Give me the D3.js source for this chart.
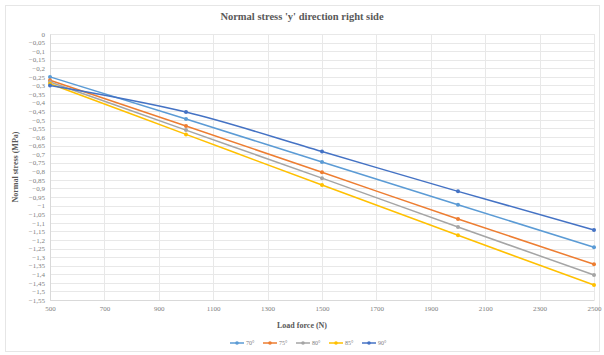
<!DOCTYPE html>
<html>
<head>
<meta charset="utf-8">
<script src="https://cdn.jsdelivr.net/npm/d3@7"></script>
<style>
  body { margin: 0; background: #fff; }
  svg { display: block; }
</style>
</head>
<body>
<svg id="grafico"></svg>
<script>
// datos
var cargas = [500, 1000, 1500, 2000, 2500];
var angulos = ["70°", "75°", "80°", "85°", "90°"];
var s70 = [-0.25, -0.495, -0.746, -0.995, -1.243];
var s75 = [-0.27, -0.536, -0.806, -1.078, -1.342];
var s80 = [-0.28, -0.56, -0.84, -1.125, -1.404];
var s85 = [-0.29, -0.585, -0.88, -1.173, -1.463];
var s90 = [-0.30, -0.455, -0.685, -0.917, -1.142];
var ticksX = [500, 700, 900, 1100, 1300, 1500, 1700, 1900, 2100, 2300, 2500];
var ticksY = d3.range(0, 32).map(function (i) { return -i * 0.05; });
var colores = ["#5b9bd5", "#ed7d31", "#a5a5a5", "#ffc000", "#4472c4"];

var series = [s70, s75, s80, s85, s90].map(function (v, i) {
    return { nombre: angulos[i], color: colores[i], puntos: v.map(function (y, j) { return { x: cargas[j], y: y }; }) };
});

var anchura = 604, altura = 355;

var svg = d3.select("#grafico").attr("width", anchura).attr("height", altura);

//marco del grafico
svg.append("rect")
    .attr("x", 5.5).attr("y", 5.5)
    .attr("width", 594).attr("height", 346)
    .attr("fill", "#fff").attr("stroke", "#e6e6e6");

var x = d3.scaleLinear().domain([500, 2500]).range([50, 594]);
var y = d3.scaleLinear().domain([0, -1.55]).range([34, 300]);

var fmt = function (d) {
    var t = d3.format(".2~f")(d);
    if (t === "-0") t = "0";
    return t.replace(".", ",");
};

//rejilla
svg.append("g").selectAll("line").data(ticksY).join("line")
    .attr("x1", x(500)).attr("x2", x(2500))
    .attr("y1", function (d) { return Math.round(y(d)) + 0.5; })
    .attr("y2", function (d) { return Math.round(y(d)) + 0.5; })
    .attr("stroke", "#e8e8e8");
svg.append("g").selectAll("line").data(ticksX).join("line")
    .attr("y1", y(0)).attr("y2", y(-1.55))
    .attr("x1", function (d) { return Math.round(x(d)) + 0.5; })
    .attr("x2", function (d) { return Math.round(x(d)) + 0.5; })
    .attr("stroke", "#e8e8e8");

//ejes
var ejeY = svg.append("g")
    .attr("transform", "translate(" + x(500) + ",0)")
    .call(d3.axisLeft(y).tickValues(ticksY).tickFormat(fmt).tickSize(0).tickPadding(5));
ejeY.select(".domain").attr("stroke", "#d9d9d9");
ejeY.selectAll("text").attr("fill", "#808080").style("font", "7px 'Liberation Serif'");

var ejeX = svg.append("g")
    .attr("transform", "translate(0," + y(-1.55) + ")")
    .call(d3.axisBottom(x).tickValues(ticksX).tickFormat(d3.format("d")).tickSize(0).tickPadding(6));
ejeX.select(".domain").attr("stroke", "#d9d9d9");
ejeX.selectAll("text").attr("fill", "#808080").style("font", "7px 'Liberation Serif'");

//lineas
var linea = d3.line()
    .x(function (d) { return x(d.x); })
    .y(function (d) { return y(d.y); })
    .curve(d3.curveMonotoneX);

var g = svg.append("g").selectAll("g").data(series).join("g");
g.append("path")
    .attr("d", function (d) { return linea(d.puntos); })
    .attr("fill", "none")
    .attr("stroke", function (d) { return d.color; })
    .attr("stroke-width", 1.5);
g.selectAll("circle").data(function (d) { return d.puntos.map(function (p) { return { p: p, c: d.color }; }); })
    .join("circle")
    .attr("cx", function (d) { return x(d.p.x); })
    .attr("cy", function (d) { return y(d.p.y); })
    .attr("r", 2)
    .attr("fill", function (d) { return d.c; });

//titulos
svg.append("text")
    .attr("x", 302).attr("y", 20)
    .attr("text-anchor", "middle")
    .attr("fill", "#595959")
    .style("font", "bold 10.5px 'Liberation Serif'")
    .text("Normal stress 'y' direction right side");

svg.append("text")
    .attr("x", 302).attr("y", 328)
    .attr("text-anchor", "middle")
    .attr("fill", "#595959")
    .style("font", "bold 8px 'Liberation Serif'")
    .text("Load force (N)");

svg.append("text")
    .attr("transform", "translate(18," + 167 + ") rotate(-90)")
    .attr("text-anchor", "middle")
    .attr("fill", "#595959")
    .style("font", "bold 8px 'Liberation Serif'")
    .text("Normal stress (MPa)");

//leyenda
var leyenda = svg.append("g").selectAll("g").data(series).join("g")
    .attr("transform", function (d, i) { return "translate(" + (230 + i * 33) + ",343)"; });
leyenda.append("line")
    .attr("x1", 0).attr("x2", 14)
    .attr("stroke", function (d) { return d.color; })
    .attr("stroke-width", 1.5);
leyenda.append("circle")
    .attr("cx", 7).attr("r", 1.8)
    .attr("fill", function (d) { return d.color; });
leyenda.append("text")
    .attr("x", 16).attr("dy", "0.33em")
    .attr("fill", "#808080")
    .style("font", "6px 'Liberation Serif'")
    .text(function (d) { return d.nombre; });
</script>
</body>
</html>
